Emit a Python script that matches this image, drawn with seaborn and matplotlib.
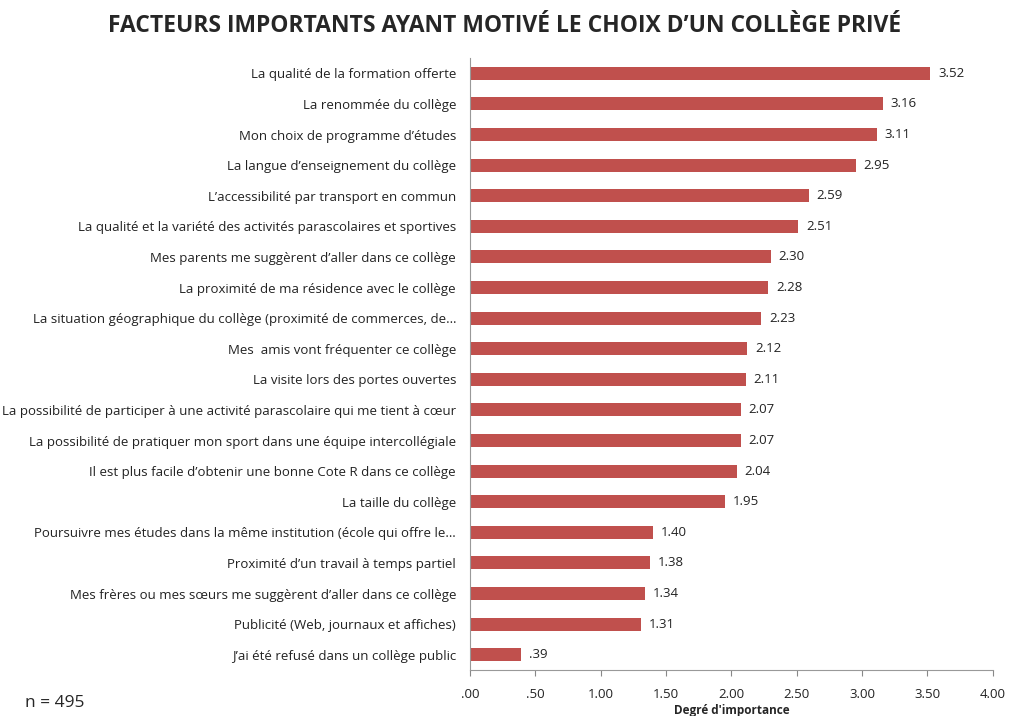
import matplotlib
matplotlib.use("Agg")
import matplotlib.pyplot as plt
import seaborn as sns
import pandas as pd

categories = [
    "La qualité de la formation offerte",
    "La renommée du collège",
    "Mon choix de programme d’études",
    "La langue d’enseignement du collège",
    "L’accessibilité par transport en commun",
    "La qualité et la variété des activités parascolaires et sportives",
    "Mes parents me suggèrent d’aller dans ce collège",
    "La proximité de ma résidence avec le collège",
    "La situation géographique du collège (proximité de commerces, de…",
    "Mes  amis vont fréquenter ce collège",
    "La visite lors des portes ouvertes",
    "La possibilité de participer à une activité parascolaire qui me tient à cœur",
    "La possibilité de pratiquer mon sport dans une équipe intercollégiale",
    "Il est plus facile d’obtenir une bonne Cote R dans ce collège",
    "La taille du collège",
    "Poursuivre mes études dans la même institution (école qui offre le…",
    "Proximité d’un travail à temps partiel",
    "Mes frères ou mes sœurs me suggèrent d’aller dans ce collège",
    "Publicité (Web, journaux et affiches)",
    "J’ai été refusé dans un collège public",
]
values = [3.52, 3.16, 3.11, 2.95, 2.59, 2.51, 2.30, 2.28, 2.23, 2.12,
          2.11, 2.07, 2.07, 2.04, 1.95, 1.40, 1.38, 1.34, 1.31, 0.39]
x_ticks = [0, 0.5, 1.0, 1.5, 2.0, 2.5, 3.0, 3.5, 4.0]

def fmt(v):
    s = f"{v:.2f}"
    return s[1:] if s.startswith("0") else s

sns.set_style("white")
plt.rcParams['font.family'] = ['Open Sans', 'DejaVu Sans']

df = pd.DataFrame({"cat": categories, "val": values})
fig = plt.figure(figsize=(10.09, 7.16), dpi=100)
ax = fig.add_axes([0.4658, 0.0642, 0.984 - 0.4658, 0.919 - 0.0642])
sns.barplot(data=df, x="val", y="cat", color="#C0504D", saturation=1,
            width=0.42, ax=ax, edgecolor="none")

ax.set_xlim(0, 4)
ax.set_ylim(19.5, -0.5)
ax.set_xticks(x_ticks)
ax.set_xticklabels([fmt(t) for t in x_ticks], fontsize=9.5, color="#222222")
ax.tick_params(axis="x", length=4, width=0.8, color="#888888", direction="out", pad=9, bottom=True)
ax.tick_params(axis="y", length=0, labelsize=9.5, labelcolor="#222222", pad=10)
ax.set_ylabel("")
ax.set_xlabel("Degré d'importance", fontsize=8.5, fontweight="bold", labelpad=2)
for s in ["top", "right"]:
    ax.spines[s].set_visible(False)
for s in ["left", "bottom"]:
    ax.spines[s].set_color("#999999")
    ax.spines[s].set_linewidth(0.8)

for i, v in enumerate(values):
    ax.text(v + 0.06, i, fmt(v), va="center", ha="left", fontsize=9.5, color="#222222")

fig.text(0.5, 0.963, "FACTEURS IMPORTANTS AYANT MOTIVÉ LE CHOIX D’UN COLLÈGE PRIVÉ",
         ha="center", va="center", fontsize=16.5, fontweight="bold")
fig.text(0.025, 0.018, "n = 495", ha="left", va="center", fontsize=12.5)

fig.savefig("out.png", dpi=100)
